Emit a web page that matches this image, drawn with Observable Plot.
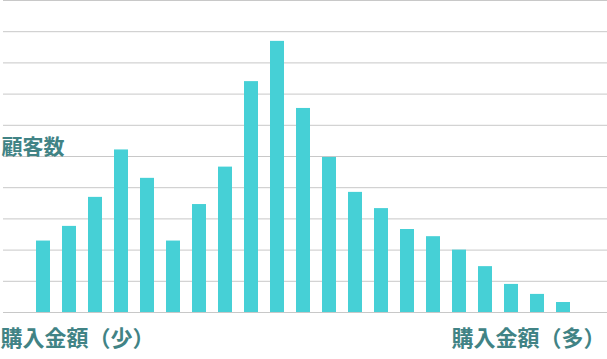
<!DOCTYPE html>
<html>
<head>
<meta charset="utf-8">
<script src="https://cdn.jsdelivr.net/npm/d3@7"></script>
<script src="https://cdn.jsdelivr.net/npm/@observablehq/plot@0.6"></script>
<style>
  html, body { margin: 0; padding: 0; background: #fff; }
  #chart svg { display: block; }
</style>
</head>
<body>
<div id="chart"></div>
<script>
// Purchase-amount bins (small → large)
const bins = ["1","2","3","4","5","6","7","8","9","10","11","12","13","14","15","16","17","18","19","20","21"];
// Number of customers per bin (relative units)
const customers = [22.9, 27.6, 36.9, 52.1, 43.0, 22.9, 34.6, 46.6, 74.0, 86.9, 65.4, 49.7, 38.5, 33.3, 26.6, 24.3, 20.0, 14.7, 9.0, 5.8, 3.2];
// Horizontal grid values
const gridTicks = [0, 10, 20, 30, 40, 50, 60, 70, 80, 90, 100];
// Labels
const yLabel = "顧客数";
const xLabelLow = "購入金額（少）";
const xLabelHigh = "購入金額（多）";

const data = bins.map((b, i) => ({bin: b, value: customers[i]}));

const barColor = "#46d0d6";
const gridColor = "#c8c8c8";
const textColor = "#418385";
const font = "'Noto Sans CJK JP', 'Noto Sans', sans-serif";

const chart = Plot.plot({
  width: 607,
  height: 359,
  marginTop: 0,
  marginBottom: 47,
  marginLeft: 3,
  marginRight: 0,
  x: {domain: bins, range: [36, 570], paddingInner: 12 / 26, paddingOuter: 0, round: false, axis: null},
  y: {domain: [0, 100], axis: null},
  marks: [
    Plot.ruleY(gridTicks, {stroke: gridColor, strokeWidth: 1}),
    Plot.barY(data, {x: "bin", y: "value", fill: barColor}),
    Plot.text([yLabel], {text: d => d, frameAnchor: "left", textAnchor: "start", dx: -2, dy: -9,
      fill: textColor, fontSize: 21, fontWeight: 700, fontFamily: font}),
    Plot.text([xLabelLow], {text: d => d, frameAnchor: "bottom-left", textAnchor: "start", dx: -3, dy: 33,
      fill: textColor, fontSize: 22, fontWeight: 700, fontFamily: font}),
    Plot.text([xLabelHigh], {text: d => d, frameAnchor: "bottom-right", textAnchor: "end", dx: -2, dy: 33,
      fill: textColor, fontSize: 22, fontWeight: 700, fontFamily: font})
  ]
});
document.getElementById("chart").appendChild(chart);
</script>
</body>
</html>
